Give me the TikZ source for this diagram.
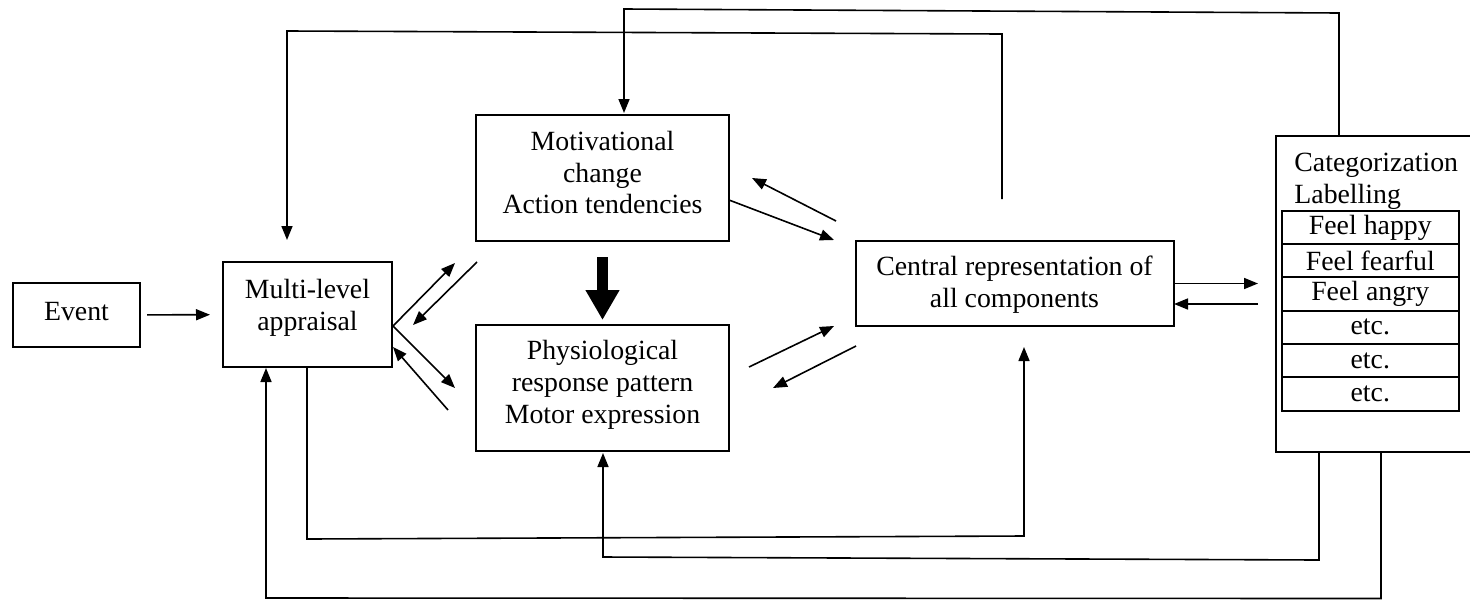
\documentclass[tikz,border=0pt]{standalone}
\usepackage{fontspec}
\setmainfont{Liberation Serif}
\usetikzlibrary{positioning, arrows.meta}
\tikzset{
box/.style={draw, line width=0.9pt, inner sep=0pt, outer sep=0pt}, % plain boxes
txt/.style={align=center, inner sep=0pt, font=\fontsize{13.9}{15.9}\selectfont}, % box texts
arr/.style={line width=0.8pt, -{Triangle[length=7pt,width=5.5pt]}}, % thin arrows
fatarr/.style={line width=5.5pt, -{Triangle[length=15pt,width=16pt]}}, % thick arrow
}

\begin{document}
\begin{tikzpicture}[x=0.5pt, y=-0.5pt]
\useasboundingbox (0,0) rectangle (1470,600);
% boxes
\node[box, minimum width=63.5pt, minimum height=32pt] (ev) at (76.5,315) {};
\node[txt] (evt) at (76.5,311.3) {Event};
\node[box, minimum width=84.5pt, minimum height=52.5pt] (app) at (307.5,314.5) {};
\node[txt] (appt) at (307.5,307.7) {Multi-level\\appraisal};
\node[box, minimum width=126.5pt, minimum height=63pt] (mot) at (602.5,178) {};
\node[txt] (mott) at (602.5,172.5) {Motivational\\change\\Action tendencies};
\node[box, minimum width=126.5pt, minimum height=63pt] (phys) at (602.5,388) {};
\node[txt] (physt) at (602.5,384.7) {Physiological\\response pattern\\Motor expression};
\node[box, minimum width=159pt, minimum height=42.5pt] (cent) at (1015,283.5) {};
\node[txt] (centt) at (1014.5,284.3) {Central representation of\\all components};
\node[box, minimum width=130pt, minimum height=157.9pt] (cat) at (1406,294) {};
\node[txt, align=left, anchor=north west] (catt) at (1294,153) {Categorization\\Labelling};
\foreach \lbl [count=\i] in {Feel happy, Feel fearful, Feel angry, etc., etc., etc.}
  \node[box, txt, draw, line width=0.9pt, minimum width=88.3pt, minimum height=16.67pt] (row\i) at (1370.3,{194.03+33.33*\i}) {\lbl};

% thick arrow
\draw[fatarr, shorten <=8pt, shorten >=2.5pt] (mot) -- (phys);
% event to appraisal
\draw[arr, shorten <=3.5pt, shorten >=6.5pt] (ev) -- (app);

% feedback loops over the top
\coordinate (l1a) at (1002,199);
\coordinate (l1b) at (1002,34);
\coordinate (l1c) at (287,31);
\draw[arr, shorten >=11pt] (l1a) -- (l1b) -- (l1c) -- (l1c |- app.north);
\coordinate (l2a) at (1339,13);
\coordinate (l2b) at (624,9);
\draw[arr, shorten >=1pt] (l2a |- cat.north) -- (l2a) -- (l2b) -- (l2b |- mot.north);

% loops underneath
\coordinate (la) at (307,539);
\coordinate (lb) at (1024,536);
\draw[arr, shorten >=10.5pt] (la |- app.south) -- (la) -- (lb) -- (lb |- cent.south);
\coordinate (lc) at (1319,560);
\coordinate (ld) at (603,557);
\draw[arr, shorten >=1pt] (lc |- cat.south) -- (lc) -- (ld) -- (ld |- phys.south);
\coordinate (le) at (1381,598.5);
\coordinate (lf) at (266,598);
\draw[arr, shorten >=0.5pt] (le |- cat.south) -- (le) -- (lf) -- (lf |- app.south);

% appraisal <-> components
\coordinate (a1) at (393,326);
\coordinate (a2) at (455,263);
\coordinate (a3) at (455,388);
\coordinate (a4) at (477,262);
\coordinate (a5) at (413,325);
\coordinate (a6) at (448,410);
\coordinate (a7) at (393,347);
\draw[arr] (a1) -- (a2);
\draw[arr] (a1) -- (a3);
\draw[arr] (a4) -- (a5);
\draw[arr] (a6) -- (a7);

% components <-> central representation
\coordinate (m1) at (729,200);
\coordinate (m2) at (834,240);
\coordinate (m3) at (836,221);
\coordinate (m4) at (752,178);
\draw[arr] (m1) -- (m2);
\draw[arr] (m3) -- (m4);
\coordinate (p1) at (749,367);
\coordinate (p2) at (834,326);
\coordinate (p3) at (856,346);
\coordinate (p4) at (773,388);
\draw[arr] (p1) -- (p2);
\draw[arr] (p3) -- (p4);

% central representation <-> labelling
\coordinate (k1) at (1258,304);
\draw[arr] (cent.east) -- ++(84,0);
\draw[arr] (k1) -- (k1 -| cent.east);
\end{tikzpicture}
\end{document}
